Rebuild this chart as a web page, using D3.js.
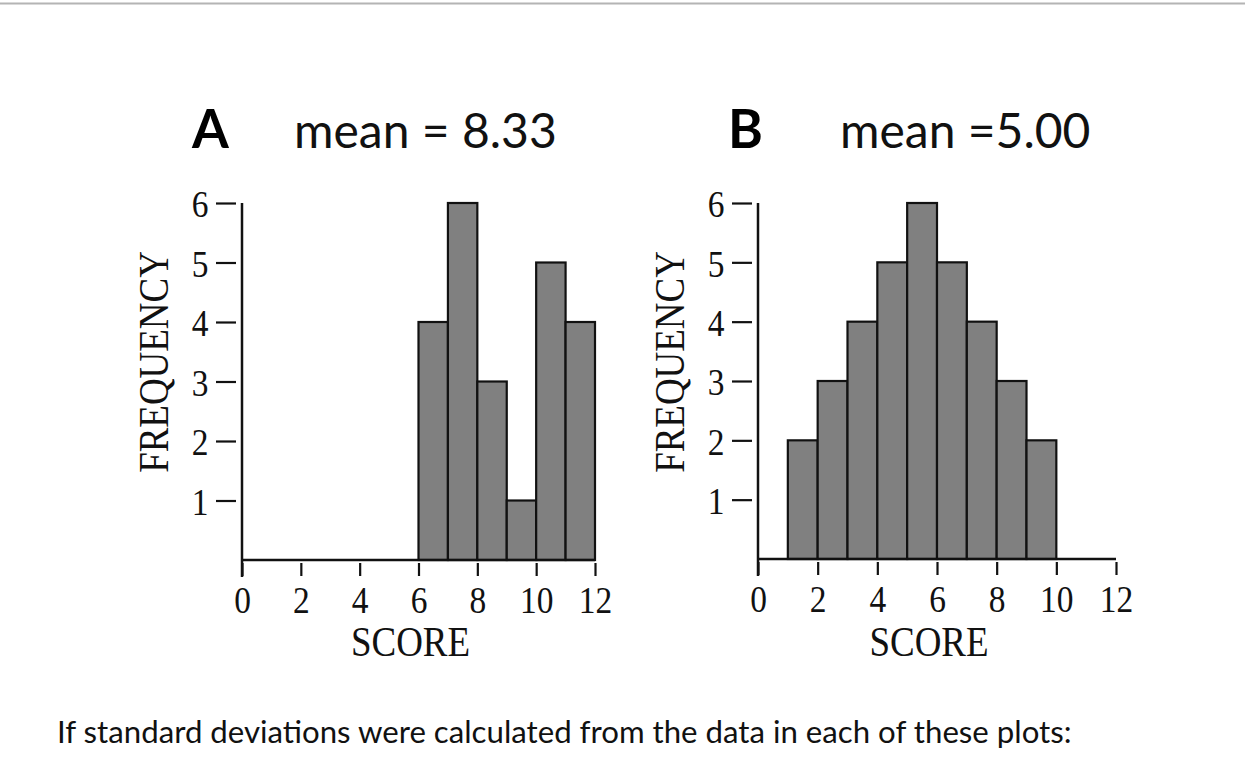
<!DOCTYPE html>
<html>
<head>
<meta charset="utf-8">
<script src="https://cdn.jsdelivr.net/npm/d3@7"></script>
<style>
  body { margin: 0; background: #fff; }
  svg { display: block; }
</style>
</head>
<body>
<svg></svg>
<script>
const scoreTicks = [0, 2, 4, 6, 8, 10, 12];
const freqTicks = [1, 2, 3, 4, 5, 6];

const binsA = [6, 7, 8, 9, 10, 11];
const countsA = [4, 6, 3, 1, 5, 4];
const binsB = [1, 2, 3, 4, 5, 6, 7, 8, 9];
const countsB = [2, 3, 4, 5, 6, 5, 4, 3, 2];

const letters = ['A', 'B'];
const meanLabels = ['mean = 8.33', 'mean =5.00'];
const xLabel = 'SCORE';
const yLabel = 'FREQUENCY';
const caption = 'If standard deviations were calculated from the data in each of these plots:';

const width = 1245;
const height = 784;
const serif = '"Liberation Serif", "Times New Roman", serif';
const sans = 'Lato, "Open Sans", sans-serif';
const squeeze = 'scale(0.88,1)';

const svg = d3.select('svg').attr('width', width).attr('height', height);

// thin grey rule along the top of the page
svg.append('line')
  .attr('x1', 0).attr('x2', width)
  .attr('y1', 3.5).attr('y2', 3.5)
  .attr('stroke', '#b4b4b4')
  .attr('stroke-width', 2);

const panels = [
  { bins: binsA, counts: countsA, left: 242, right: 595, base: 560, top: 203, head: 0 },
  { bins: binsB, counts: countsB, left: 758, right: 1116, base: 559, top: 203, head: -6 }
];

panels.forEach((p, i) => {
  const x = d3.scaleLinear().domain([0, 12]).range([p.left, p.right]);
  const y = d3.scaleLinear().domain([0, 6]).range([p.base, p.top]);
  const g = svg.append('g');

  // bars
  g.selectAll('rect')
    .data(p.bins.map((b, j) => ({ b: b, n: p.counts[j] })))
    .enter()
    .append('rect')
    .attr('x', (d) => x(d.b))
    .attr('y', (d) => y(d.n))
    .attr('width', (d) => x(d.b + 1) - x(d.b))
    .attr('height', (d) => y(0) - y(d.n))
    .attr('fill', '#808080')
    .attr('stroke', '#111')
    .attr('stroke-width', 2.2);

  // x axis
  const xa = g.append('g')
    .attr('transform', 'translate(0,' + p.base + ')')
    .call(d3.axisBottom(x).tickValues(scoreTicks).tickFormat(d3.format('d')).tickSizeOuter(0));
  xa.select('.domain').remove();
  xa.selectAll('.tick line')
    .attr('y1', 3).attr('y2', 16)
    .attr('stroke', '#111')
    .attr('stroke-width', 2.2);
  xa.selectAll('.tick text')
    .attr('y', 26)
    .attr('transform', squeeze)
    .style('font-family', serif)
    .style('font-size', '38px')
    .attr('fill', '#111');

  // y axis
  const ya = g.append('g')
    .attr('transform', 'translate(' + p.left + ',0)')
    .call(d3.axisLeft(y).tickValues(freqTicks).tickFormat(d3.format('d')).tickSizeOuter(0));
  ya.select('.domain').remove();
  ya.selectAll('.tick line')
    .attr('x1', -6).attr('x2', -26)
    .attr('stroke', '#111')
    .attr('stroke-width', 2.2);
  ya.selectAll('.tick text')
    .attr('x', -38)
    .attr('dy', '0.36em')
    .attr('transform', squeeze)
    .style('font-family', serif)
    .style('font-size', '38px')
    .attr('fill', '#111');

  // axis lines
  g.append('line')
    .attr('x1', x(0)).attr('x2', x(12))
    .attr('y1', y(0)).attr('y2', y(0))
    .attr('stroke', '#111').attr('stroke-width', 2.5);
  g.append('line')
    .attr('x1', x(0)).attr('x2', x(0))
    .attr('y1', y(6)).attr('y2', y(0) + 17)
    .attr('stroke', '#111').attr('stroke-width', 2.5);

  // axis titles
  g.append('text')
    .attr('transform', 'translate(' + (x(6) - 8) + ',656) ' + squeeze)
    .attr('text-anchor', 'middle')
    .style('font-family', serif)
    .style('font-size', '42px')
    .attr('fill', '#111')
    .text(xLabel);
  g.append('text')
    .attr('transform', 'translate(' + (p.left - 74) + ',362) rotate(-90) ' + squeeze)
    .attr('text-anchor', 'middle')
    .style('font-family', serif)
    .style('font-size', '42px')
    .attr('fill', '#111')
    .text(yLabel);

  // panel letter and mean
  g.append('text')
    .attr('x', p.left - 50 + i * 26 + p.head)
    .attr('y', 148)
    .style('font-family', sans)
    .style('font-weight', 'bold')
    .style('font-size', '53px')
    .attr('fill', '#000')
    .text(letters[i]);
  g.append('text')
    .attr('x', p.left + 52 + i * 36 + p.head)
    .attr('y', 148)
    .style('font-family', sans)
    .style('font-size', '48px')
    .attr('fill', '#111')
    .text(meanLabels[i]);
});

svg.append('text')
  .attr('x', 57)
  .attr('y', 743)
  .style('font-family', sans)
  .style('font-size', '31.2px')
  .attr('fill', '#111')
  .text(caption);
</script>
</body>
</html>
